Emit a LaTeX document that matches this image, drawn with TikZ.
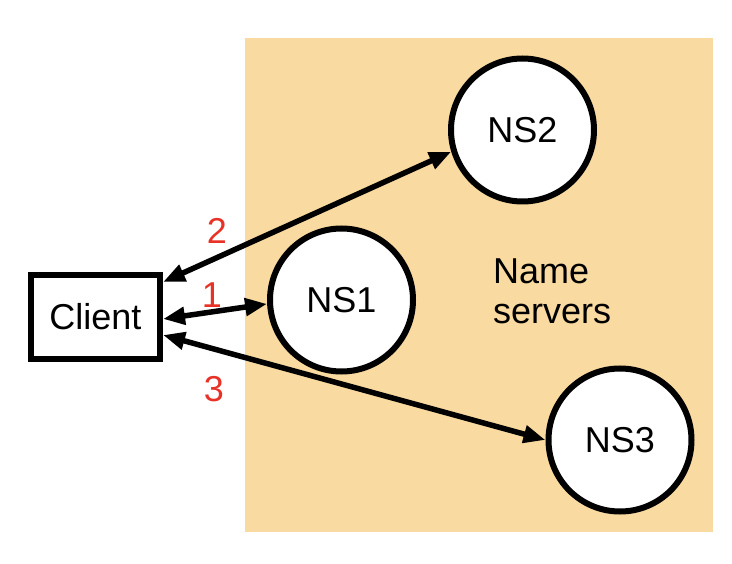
\documentclass[tikz,border=0pt]{standalone}
\usepackage{fontspec}
\setmainfont{Liberation Sans}
\usetikzlibrary{arrows.meta}
\definecolor{zonebg}{RGB}{249,218,160}
\definecolor{numred}{RGB}{232,50,40}
\begin{document}
\begin{tikzpicture}[x=1pt,y=-1pt,font=\fontsize{36}{40}\selectfont,
    >={Triangle[length=22pt,width=17pt]},
    ns/.style={circle,draw,fill=white,line width=6pt,minimum size=143pt,inner sep=0pt},
    link/.style={<->,line width=5.5pt},
    num/.style={text=numred}]
    \useasboundingbox (0,0) rectangle (732,564);
    \fill[zonebg] (245,38) rectangle (713,532); % zone of the name servers
    \node[draw,line width=6pt,minimum width=129pt,minimum height=84pt,inner sep=0pt] (client) at (95.5,317) {Client};
    \node[ns] (ns1) at (341.5,300) {NS1};
    \node[ns] (ns2) at (522.5,130) {NS2};
    \node[ns] (ns3) at (620,440) {NS3};
    \node[align=left,anchor=west,inner sep=0pt] (zone) at (493,291) {Name\\servers};
    \draw[link] ([yshift=35pt]client.east) -- (ns2.197);
    \draw[link] ([yshift=-2pt]client.east) -- (ns1.183);
    \draw[link] ([yshift=-18pt]client.east) -- (ns3.180);
    \foreach \n/\x/\y in {2/217/231,1/212/295,3/214/389}{
       \node[num] (lab\n) at (\x,\y) {\n};
    }
\end{tikzpicture}
\end{document}
